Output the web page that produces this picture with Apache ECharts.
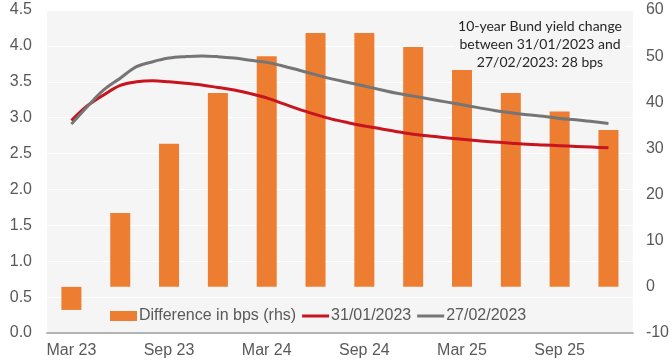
<!DOCTYPE html>
<html>
<head>
<meta charset="utf-8">
<script src="https://cdn.jsdelivr.net/npm/echarts@6/dist/echarts.min.js"></script>
<style>
  html, body { margin: 0; padding: 0; background: #ffffff; }
  #chart { width: 672px; height: 361px; }
</style>
</head>
<body>
<div id="chart"></div>
<script>
// Quarterly categories (bars) and their axis labels
const quarters = ['Mar 23','Jun 23','Sep 23','Dec 23','Mar 24','Jun 24','Sep 24','Dec 24','Mar 25','Jun 25','Sep 25','Dec 25'];

// Difference between the two curves, in bps (right-hand axis)
const diffBps = [-5, 16, 31, 42, 50, 55, 55, 52, 47, 42, 38, 34];

// Monthly points of the two curves, month 0 = Mar 23
const months = [0,1,2,3,4,5,6,7,8,9,10,11,12,13,14,15,16,17,18,19,20,21,22,23,24,25,26,27,28,29,30,31,32,33];
const curveJan = [2.96,3.17,3.32,3.45,3.50,3.515,3.50,3.48,3.455,3.42,3.385,3.335,3.275,3.195,3.115,3.045,2.98,2.93,2.885,2.845,2.805,2.77,2.745,2.72,2.70,2.68,2.66,2.645,2.63,2.62,2.61,2.60,2.59,2.58];
const curveFeb = [2.91,3.16,3.39,3.55,3.71,3.78,3.83,3.85,3.86,3.85,3.83,3.80,3.77,3.72,3.66,3.60,3.54,3.49,3.44,3.39,3.34,3.30,3.26,3.22,3.18,3.14,3.10,3.07,3.04,3.02,2.99,2.97,2.945,2.92];

const seriesNames = ['Difference in bps (rhs)', '31/01/2023', '27/02/2023'];
const noteLines = ['10-year Bund yield change', 'between 31/01/2023 and', '27/02/2023: 28 bps'];

const barColor = '#ED7D31';
const janColor = '#C8141E';
const febColor = '#757575';
const plotBg = '#f5f5f5';

const pairs = (xs, ys) => xs.map((x, i) => [x, ys[i]]);
// thin horizontal stroke used as the legend key of the two curves
const lineKey = 'path://M0,0 L27,0 L27,3 L0,3 Z';

const chart = echarts.init(document.getElementById('chart'), null, { renderer: 'canvas' });
const labelFont = { fontFamily: 'Liberation Sans, Arial, sans-serif', fontSize: 16, color: '#595959' };

chart.setOption({
  animation: false,
  backgroundColor: '#ffffff',
  grid: {
    left: 47, right: 39, top: 10, bottom: 28,
    show: true, backgroundColor: plotBg, borderWidth: 0
  },
  xAxis: [
    {
      type: 'category',
      data: quarters,
      boundaryGap: true,
      axisLine: { show: true, lineStyle: { color: '#b4b4b4', width: 2 } },
      axisTick: { show: false },
      axisLabel: Object.assign({ interval: 1, margin: 10 }, labelFont),
      splitLine: { show: false }
    },
    {
      type: 'value',
      min: -1.5, max: 34.5,
      show: false
    }
  ],
  yAxis: [
    {
      type: 'value',
      min: 0, max: 4.5, interval: 0.5,
      axisLine: { show: false },
      axisTick: { show: false },
      axisLabel: Object.assign({ margin: 15, formatter: v => v.toFixed(1) }, labelFont),
      splitLine: { show: true, lineStyle: { color: '#ffffff', width: 1 } }
    },
    {
      type: 'value',
      min: -10, max: 60, interval: 10,
      position: 'right',
      axisLine: { show: false },
      axisTick: { show: false },
      axisLabel: Object.assign({ margin: 13 }, labelFont),
      splitLine: { show: false }
    }
  ],
  legend: {
    left: 105, top: 303,
    itemWidth: 27, itemHeight: 10, itemGap: 6,
    symbolKeepAspect: true,
    textStyle: { fontFamily: 'Liberation Sans, Arial, sans-serif', fontSize: 16, color: '#595959', padding: [0, 0, 0, -3] },
    data: [
      { name: seriesNames[0], icon: 'rect', itemStyle: { color: barColor } },
      { name: seriesNames[1], icon: lineKey, itemStyle: { color: janColor } },
      { name: seriesNames[2], icon: lineKey, itemStyle: { color: febColor } }
    ]
  },
  graphic: [
    {
      // note box sits above the grid lines but under the bars and curves
      type: 'text',
      x: 540, y: 15,
      z: 1,
      style: {
        text: noteLines.join('\n'),
        textAlign: 'center',
        textVerticalAlign: 'top',
        fontFamily: 'Lato, Carlito, sans-serif',
        fontSize: 14,
        lineHeight: 18,
        fill: '#262626',
        backgroundColor: plotBg,
        padding: [2, 4]
      }
    }
  ],
  series: [
    {
      name: seriesNames[0],
      type: 'bar',
      xAxisIndex: 0,
      yAxisIndex: 1,
      data: diffBps,
      barWidth: 20,
      itemStyle: { color: barColor },
      z: 2
    },
    {
      name: seriesNames[1],
      type: 'line',
      xAxisIndex: 1,
      yAxisIndex: 0,
      data: pairs(months, curveJan),
      smooth: 0.35,
      symbol: 'none',
      lineStyle: { color: janColor, width: 3 },
      itemStyle: { color: janColor },
      z: 3
    },
    {
      name: seriesNames[2],
      type: 'line',
      xAxisIndex: 1,
      yAxisIndex: 0,
      data: pairs(months, curveFeb),
      smooth: 0.35,
      symbol: 'none',
      lineStyle: { color: febColor, width: 3 },
      itemStyle: { color: febColor },
      z: 4
    }
  ]
});
</script>
</body>
</html>
